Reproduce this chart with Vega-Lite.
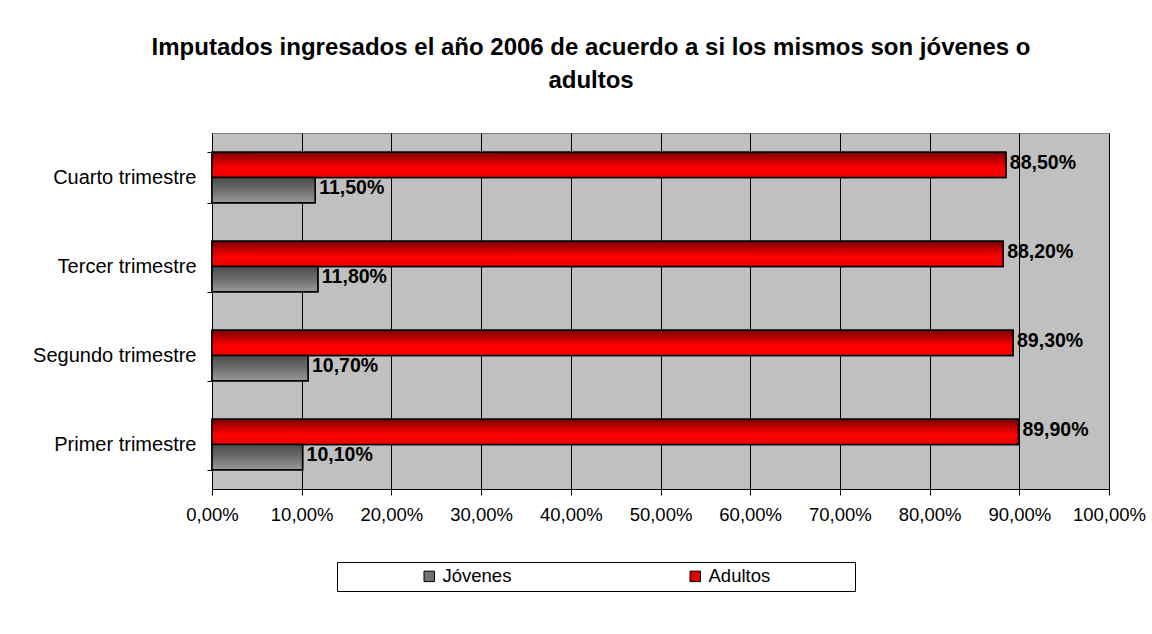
{
  "$schema": "https://vega.github.io/schema/vega-lite/v6.json",
  "width": 897,
  "height": 356,
  "autosize": "none",
  "padding": {"left": 212, "top": 133, "right": 43, "bottom": 145},
  "background": "white",
  "config": {
    "font": "Liberation Sans",
    "view": {"fill": "#C0C0C0", "stroke": "#808080", "strokeWidth": 1}
  },
  "title": {
    "text": ["Imputados ingresados el año 2006 de acuerdo a si los mismos son jóvenes o", "adultos"],
    "font": "Liberation Sans",
    "fontSize": 24,
    "fontWeight": "bold",
    "color": "black",
    "anchor": "middle",
    "frame": "bounds",
    "lineHeight": 33,
    "offset": 30,
    "dx": 2
  },
  "data": {
    "values": [
      {"trimestre": "Cuarto trimestre", "serie": "Adultos", "valor": 88.5},
      {"trimestre": "Cuarto trimestre", "serie": "Jóvenes", "valor": 11.5},
      {"trimestre": "Tercer trimestre", "serie": "Adultos", "valor": 88.2},
      {"trimestre": "Tercer trimestre", "serie": "Jóvenes", "valor": 11.8},
      {"trimestre": "Segundo trimestre", "serie": "Adultos", "valor": 89.3},
      {"trimestre": "Segundo trimestre", "serie": "Jóvenes", "valor": 10.7},
      {"trimestre": "Primer trimestre", "serie": "Adultos", "valor": 89.9},
      {"trimestre": "Primer trimestre", "serie": "Jóvenes", "valor": 10.1}
    ]
  },
  "encoding": {
    "y": {
      "field": "trimestre",
      "type": "nominal",
      "sort": ["Cuarto trimestre", "Tercer trimestre", "Segundo trimestre", "Primer trimestre"],
      "scale": {"paddingInner": 0.43, "paddingOuter": 0.215},
      "axis": {
        "title": null,
        "labelFont": "Liberation Sans",
        "labelFontSize": 20,
        "labelColor": "black",
        "tickBand": "extent",
        "tickColor": "black",
        "tickSize": 5,
        "domainColor": "black",
        "labelPadding": 11
      }
    },
    "yOffset": {
      "field": "serie",
      "type": "nominal",
      "scale": {"domain": ["Adultos", "Jóvenes"], "paddingInner": 0, "paddingOuter": 0}
    },
    "x": {
      "field": "valor",
      "type": "quantitative",
      "scale": {"domain": [0, 100], "nice": false},
      "axis": {
        "title": null,
        "values": [0, 10, 20, 30, 40, 50, 60, 70, 80, 90, 100],
        "labelExpr": "replace(format(datum.value, '.2f'), '.', ',') + '%'",
        "labelOverlap": false,
        "labelFlush": false,
        "labelFont": "Liberation Sans",
        "labelFontSize": 18.5,
        "labelColor": "black",
        "tickColor": "black",
        "tickSize": 6,
        "labelPadding": 10,
        "domainColor": "black",
        "grid": true,
        "gridColor": "black",
        "gridWidth": 1
      }
    }
  },
  "layer": [
    {
      "mark": {"type": "bar", "stroke": "black", "strokeWidth": 1.5},
      "encoding": {
        "color": {
          "field": "serie",
          "type": "nominal",
          "scale": {"domain": ["Jóvenes", "Adultos"], "range": ["#707070", "#E00000"]},
          "legend": {
            "title": "\u00a0",
            "titleOrient": "right",
            "titlePadding": 80,
            "titleFontSize": 8,
            "orient": "none",
            "legendX": 125,
            "legendY": 429,
            "direction": "horizontal",
            "columns": 2,
            "columnPadding": 96,
            "symbolOffset": 78,
            "symbolType": "square",
            "symbolSize": 110,
            "symbolStrokeColor": "black",
            "symbolStrokeWidth": 1,
            "labelFont": "Liberation Sans",
            "labelFontSize": 18.5,
            "labelColor": "black",
            "labelOffset": 4,
            "padding": 5,
            "strokeColor": "black",
            "fillColor": "white"
          }
        }
      }
    },
    {
      "transform": [{"filter": "datum.serie === 'Adultos'"}],
      "mark": {
        "type": "bar",
        "stroke": "black",
        "strokeWidth": 1.5,
        "fill": {
          "gradient": "linear", "x1": 0, "y1": 0, "x2": 0, "y2": 1,
          "stops": [
            {"offset": 0, "color": "#780000"},
            {"offset": 0.6, "color": "#FF0000"},
            {"offset": 1, "color": "#F00000"}
          ]
        }
      },
      "encoding": {}
    },
    {
      "transform": [{"filter": "datum.serie === 'Jóvenes'"}],
      "mark": {
        "type": "bar",
        "stroke": "black",
        "strokeWidth": 1.5,
        "fill": {
          "gradient": "linear", "x1": 0, "y1": 0, "x2": 0, "y2": 1,
          "stops": [
            {"offset": 0, "color": "#4A4A4A"},
            {"offset": 0.5, "color": "#6E6E6E"},
            {"offset": 1, "color": "#9A9A9A"}
          ]
        }
      },
      "encoding": {}
    },
    {
      "mark": {"type": "text", "align": "left", "baseline": "middle", "dx": 4, "dy": -2, "font": "Liberation Sans", "fontSize": 19.5, "fontWeight": "bold", "color": "black"},
      "encoding": {
        "text": {"field": "label"}
      },
      "transform": [{"calculate": "replace(format(datum.valor, '.2f'), '.', ',') + '%'", "as": "label"}]
    }
  ]
}
